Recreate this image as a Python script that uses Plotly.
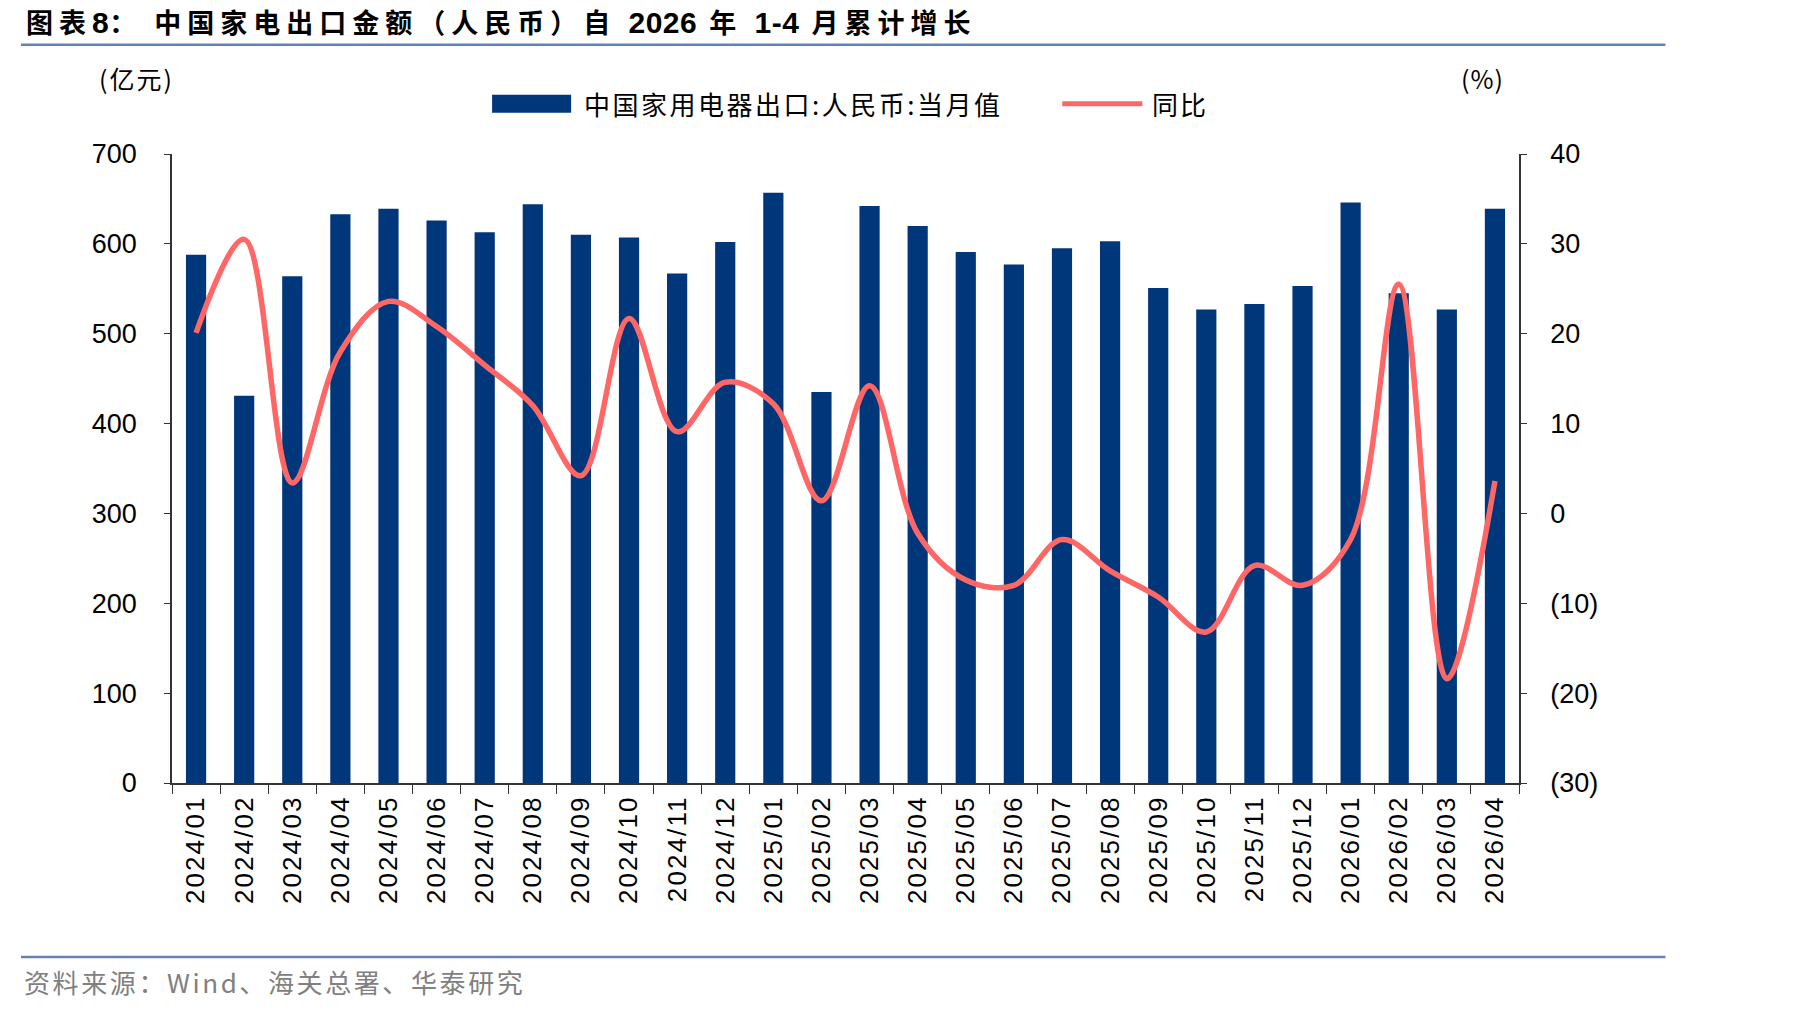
import plotly.graph_objects as go

months = ["2024/01","2024/02","2024/03","2024/04","2024/05","2024/06","2024/07","2024/08",
          "2024/09","2024/10","2024/11","2024/12","2025/01","2025/02","2025/03","2025/04",
          "2025/05","2025/06","2025/07","2025/08","2025/09","2025/10","2025/11","2025/12",
          "2026/01","2026/02","2026/03","2026/04"]
export_value = [588, 431, 564, 633, 639, 626, 613, 644, 610, 607, 567, 602, 657, 435, 642, 620,
                591, 577, 595, 603, 551, 527, 533, 553, 646, 545, 527, 639]
yoy = [20.1, 30.5, 3.4, 18.0, 23.6, 20.8, 16.5, 12.0, 4.2, 21.7, 9.1, 14.6, 12.2, 1.4, 14.2, -2.2,
       -7.4, -8.0, -2.9, -6.4, -9.3, -13.2, -5.8, -8.0, -2.9, 25.5, -18.4, 3.6]
left_ticks = [0, 100, 200, 300, 400, 500, 600, 700]
right_ticks = [-30, -20, -10, 0, 10, 20, 30, 40]
right_ticktext = ["(30)", "(20)", "(10)", "0", "10", "20", "30", "40"]

BAR_NAME = "中国家用电器出口:人民币:当月值"
LINE_NAME = "同比"
# title pieces: (text, is_latin)
TITLE_PARTS = [("图表", False), ("8", True), ("： ", False), ("中国家电出口金额（人民币）自 ", False),
               ("2026", True), (" 年 ", False), ("1-4", True), (" 月累计增长", False)]
SOURCE = "资料来源：Wind、海关总署、华泰研究"
BAR_COLOR = "#00377A"
LINE_COLOR = "#FF6666"

W, H = 1819, 1011
L, R, T, B = 172, 1518.6, 154.3, 783.1

def px(x):
    return (x - L) / (R - L)

def py(y):
    return (B - y) / (B - T)

def spaced(s, sp):
    return '<span style="letter-spacing:%spx">%s</span>' % (sp, s)

def latin(s):
    return '<span style="font-family:Liberation Sans, Arial;font-size:30px;letter-spacing:0.5px">%s</span>' % s

title_html = "<b>" + "".join(latin(t) if is_l else spaced(t, 6) for t, is_l in TITLE_PARTS) + "</b>"

fig = go.Figure()
fig.add_trace(go.Bar(x=months, y=export_value, name=BAR_NAME, marker_color=BAR_COLOR,
                     marker_line_width=0, width=0.42, showlegend=False, yaxis="y"))
fig.add_trace(go.Scatter(x=months, y=yoy, name=LINE_NAME, mode="lines",
                         line=dict(color=LINE_COLOR, width=5.5, shape="spline", smoothing=1.0),
                         showlegend=False, yaxis="y2"))

num_font = dict(family="Liberation Sans, Arial", size=27, color="#000000")

fig.update_layout(
    width=W, height=H,
    margin=dict(l=L, r=W - R, t=T, b=H - B, pad=0),
    paper_bgcolor="white", plot_bgcolor="white",
    xaxis=dict(type="category", tickangle=-90, showline=True, linecolor="#333333", linewidth=2,
               ticks="outside", tickson="boundaries", ticklen=9, tickcolor="#333333",
               tickvals=months, ticktext=[spaced(m, 2.1) for m in months],
               tickfont=dict(family="Liberation Sans, Arial", size=26, color="#000000"),
               showgrid=False, zeroline=False, range=[-0.5, len(months) - 0.5]),
    yaxis=dict(range=[0, 700], tickvals=left_ticks, showline=True, linecolor="#333333", linewidth=1.5,
               ticks="outside", ticklen=6, tickcolor="#333333", tickfont=num_font,
               ticklabelstandoff=22, showgrid=False, zeroline=False),
    yaxis2=dict(range=[-30, 40], tickvals=right_ticks, ticktext=right_ticktext, overlaying="y",
                side="right", showline=True, linecolor="#333333", linewidth=1.5, ticks="outside",
                ticklen=6, tickcolor="#333333", tickfont=num_font, ticklabelstandoff=18,
                showgrid=False, zeroline=False),
)

shapes = []
shapes.append(dict(type="line", xref="paper", yref="paper", x0=px(21), x1=px(1665), y0=py(45), y1=py(45),
                   line=dict(color="#6383B5", width=2.5)))
shapes.append(dict(type="line", xref="paper", yref="paper", x0=px(21), x1=px(1665), y0=py(957), y1=py(957),
                   line=dict(color="#6383B5", width=2.5)))
shapes.append(dict(type="rect", xref="paper", yref="paper", x0=px(492), x1=px(571), y0=py(113), y1=py(95),
                   fillcolor=BAR_COLOR, line=dict(width=0)))
shapes.append(dict(type="line", xref="paper", yref="paper", x0=px(1062), x1=px(1142), y0=py(104), y1=py(104),
                   line=dict(color=LINE_COLOR, width=5)))
fig.update_layout(shapes=shapes)

cjk = "Noto Sans CJK SC"
ann = []
ann.append(dict(text=title_html, xref="paper", yref="paper",
                x=px(24), y=py(22), xanchor="left", yanchor="middle", showarrow=False,
                font=dict(family=cjk, size=27, color="#000000")))
ann.append(dict(text=spaced("(亿元)", 2), xref="paper", yref="paper", x=px(137), y=py(78), xanchor="center",
                yanchor="middle", showarrow=False, font=dict(family=cjk, size=25, color="#000000")))
ann.append(dict(text=spaced("(%)", 1), xref="paper", yref="paper", x=px(1482), y=py(78), xanchor="center",
                yanchor="middle", showarrow=False, font=dict(family=cjk, size=25, color="#000000")))
ann.append(dict(text=spaced(BAR_NAME, 2.5), xref="paper", yref="paper", x=px(582), y=py(104), xanchor="left",
                yanchor="middle", showarrow=False, font=dict(family=cjk, size=26, color="#000000")))
ann.append(dict(text=spaced(LINE_NAME, 2), xref="paper", yref="paper", x=px(1150), y=py(104), xanchor="left",
                yanchor="middle", showarrow=False, font=dict(family=cjk, size=26, color="#000000")))
ann.append(dict(text=spaced(SOURCE, 2.6), xref="paper", yref="paper", x=px(22), y=py(982),
                xanchor="left", yanchor="middle", showarrow=False,
                font=dict(family=cjk, size=26, color="#808080")))
fig.update_layout(annotations=ann)

fig.write_html("out.html")
